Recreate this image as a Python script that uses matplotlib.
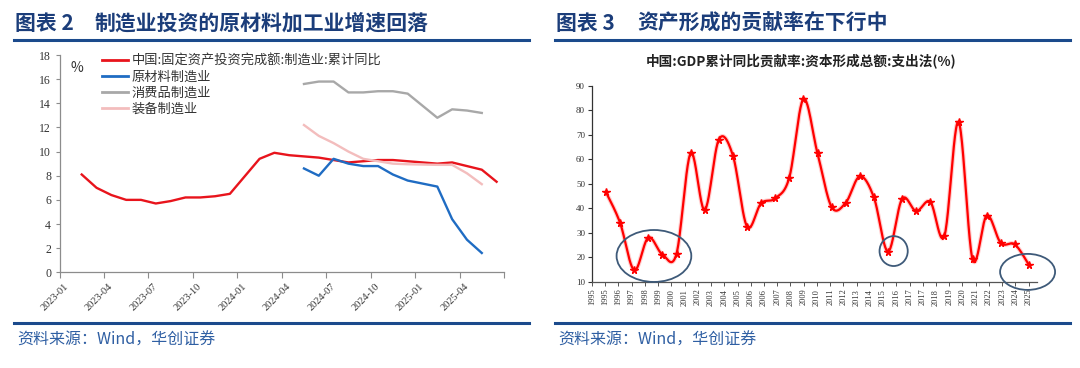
import numpy as np
import matplotlib
matplotlib.use('Agg')
import matplotlib.pyplot as plt
from matplotlib.patches import Ellipse
from matplotlib.lines import Line2D

plt.rcParams['font.family'] = ['Noto Sans CJK SC', 'DejaVu Sans']

nan = np.nan

# ---------------- Left chart data ----------------
months = ['2023-01', '2023-02', '2023-03', '2023-04', '2023-05', '2023-06',
          '2023-07', '2023-08', '2023-09', '2023-10', '2023-11', '2023-12',
          '2024-01', '2024-02', '2024-03', '2024-04', '2024-05', '2024-06',
          '2024-07', '2024-08', '2024-09', '2024-10', '2024-11', '2024-12',
          '2025-01', '2025-02', '2025-03', '2025-04', '2025-05', '2025-06']
month_labels = ['2023-01', '2023-04', '2023-07', '2023-10', '2024-01',
                '2024-04', '2024-07', '2024-10', '2025-01', '2025-04']

mfg_total = [nan, 8.1, 7.0, 6.4, 6.0, 6.0, 5.7, 5.9, 6.2, 6.2, 6.3, 6.5,
             nan, 9.4, 9.9, 9.7, 9.6, 9.5, 9.3, 9.1, 9.2, 9.3, 9.3, 9.2,
             nan, 9.0, 9.1, 8.8, 8.5, 7.5]
raw_material = [nan] * 16 + [8.6, 8.0, 9.4, 9.0, 8.8, 8.8, 8.1, 7.6,
                             nan, 7.1, 4.4, 2.7, 1.6, nan]
consumer = [nan] * 16 + [15.6, 15.8, 15.8, 14.9, 14.9, 15.0, 15.0, 14.8,
                         nan, 12.8, 13.5, 13.4, 13.2, nan]
equipment = [nan] * 16 + [12.2, 11.3, 10.7, 10.0, 9.4, 9.2, 9.0, 8.95,
                          nan, 8.9, 8.9, 8.2, 7.3, nan]

series_names = ['中国:固定资产投资完成额:制造业:累计同比', '原材料制造业',
                '消费品制造业', '装备制造业']
series_vals = [mfg_total, raw_material, consumer, equipment]
series_colors = ['#E8141C', '#1F6CC3', '#A8A8A8', '#F3BDBD']

# ---------------- Right chart data ----------------
gdp_contrib = [46.5, 34.0, 14.7, 28.0, 21.1, 21.4, 62.4, 39.3, 68.0, 61.5,
               32.5, 42.0, 44.0, 52.5, 84.5, 62.4, 40.5, 42.2, 53.0, 44.4,
               22.3, 43.8, 38.8, 42.6, 28.7, 75.2, 19.1, 37.0, 25.8, 25.2,
               16.8]
year_labels = ['1995', '1995', '1996', '1997', '1998', '1999', '2000', '2001',
               '2002', '2003', '2004', '2005', '2006', '2006', '2007', '2008',
               '2009', '2010', '2011', '2012', '2013', '2014', '2015', '2016',
               '2017', '2017', '2018', '2019', '2020', '2021', '2022', '2023',
               '2024', '2025']

W, H = 1080, 368
fig = plt.figure(figsize=(W / 100, H / 100), dpi=100)


def fx(px):
    return px / W


def fy(py):
    return 1 - py / H


title_color = '#1B3D7A'
rule_color = '#1B4A8C'
src_color = '#2F5FA3'

# ---------- headers / footers ----------
for x0, x1, num, txt, tx in [(14, 529, '图表 2', '制造业投资的原材料加工业增速回落', 95),
                             (555, 1070, '图表 3', '资产形成的贡献率在下行中', 637)]:
    fig.text(fx(x0 + 1), fy(23), num, fontsize=15, weight='bold',
             color=title_color, va='center', ha='left')
    fig.text(fx(tx), fy(23), txt, fontsize=15, weight='bold',
             color=title_color, va='center', ha='left')
    fig.add_artist(Line2D([fx(x0), fx(x1)], [fy(40), fy(40)], lw=2.2,
                          color=rule_color))
    fig.add_artist(Line2D([fx(x0), fx(x1)], [fy(322.5), fy(322.5)], lw=2.2,
                          color=rule_color))
    fig.text(fx(x0 + 3), fy(340), '资料来源：Wind，华创证券', fontsize=11.5,
             color=src_color, style='italic', va='center', ha='left')

# ---------- Left chart ----------
axl = fig.add_axes([fx(59.5), fy(272.3), fx(504 - 59.5), (272.3 - 55) / H])
x = np.arange(len(months))
handles = []
for name, vals, col in zip(series_names, series_vals, series_colors):
    v = np.array(vals, dtype=float)
    m = ~np.isnan(v)
    ln, = axl.plot(x[m], v[m], color=col, lw=1.7, solid_joinstyle='round')
    handles.append(ln)

axl.set_xlim(-0.5, len(months) - 0.5)
axl.set_ylim(0, 18)
axl.set_yticks(np.arange(0, 19, 2))
for s in ['top', 'right']:
    axl.spines[s].set_visible(False)
for s in ['left', 'bottom']:
    axl.spines[s].set_color('#8C8C8C')
    axl.spines[s].set_linewidth(0.9)
axl.set_xticks(np.arange(-0.5, len(months), 3))
axl.set_xticklabels([])
axl.set_xticks([months.index(l) for l in month_labels], minor=True)
axl.set_xticklabels(month_labels, minor=True, rotation=45, ha='right',
                    va='center', rotation_mode='anchor',
                    fontsize=7.5, family='Liberation Serif', color='#333333')
axl.tick_params(axis='x', which='major', length=4, color='#8C8C8C', direction='out')
axl.tick_params(axis='x', which='minor', length=0, pad=9)
axl.tick_params(axis='y', length=3, color='#8C8C8C', direction='out',
                labelsize=8.5, labelcolor='#333333', pad=3)
for t in axl.get_yticklabels():
    t.set_family('Liberation Serif')

fig.text(fx(77), fy(68), '%', fontsize=10, color='#333333', ha='center', va='center')

leg = axl.legend(handles, series_names, loc='upper left',
                 bbox_to_anchor=((102 - 59.5) / 444.5, (272.3 - 55) / 217.3),
                 frameon=False, fontsize=9.5, handlelength=2.0,
                 handletextpad=0.25, labelspacing=0.22, borderpad=0,
                 borderaxespad=0)
for t in leg.get_texts():
    t.set_color('#333333')
for lh in leg.get_lines():
    lh.set_linewidth(2.0)

# ---------- Right chart ----------
axr = fig.add_axes([fx(592), fy(281.7), fx(1037 - 592), (281.7 - 85.7) / H])
n = len(gdp_contrib)
xr = np.arange(n)


def catmull_rom(xs, ys, steps=24):
    pts = np.column_stack([xs, ys]).astype(float)
    P = np.vstack([pts[0], pts, pts[-1]])
    out = []
    t = np.linspace(0, 1, steps, endpoint=False)[:, None]
    for i in range(1, len(P) - 2):
        p0, p1, p2, p3 = P[i - 1], P[i], P[i + 1], P[i + 2]
        seg = 0.5 * ((2 * p1) + (-p0 + p2) * t
                     + (2 * p0 - 5 * p1 + 4 * p2 - p3) * t ** 2
                     + (-p0 + 3 * p1 - 3 * p2 + p3) * t ** 3)
        out.append(seg)
    out.append(pts[-1][None])
    return np.vstack(out)


curve = catmull_rom(xr, gdp_contrib)
axr.plot(curve[:, 0], curve[:, 1], color='#FFB0B0', lw=3.2, alpha=0.6,
         solid_capstyle='round')
axr.plot(curve[:, 0], curve[:, 1], color='#FF0000', lw=1.6,
         solid_capstyle='round')
axr.plot(xr, gdp_contrib, ls='none', marker='*', ms=5.5, color='#FF0000',
         mec='#FF0000')

px_per_idx = (1029 - 606) / 30.0
axr.set_xlim(-(606 - 592) / px_per_idx, (1037 - 606) / px_per_idx)
axr.set_ylim(10, 90)
axr.set_yticks(np.arange(10, 91, 10))
axr.tick_params(axis='y', length=3, direction='out', labelsize=6.5,
                labelcolor='#333333', pad=2, color='#333333', width=0.8)
for t in axr.get_yticklabels():
    t.set_family('Liberation Serif')
axr.tick_params(axis='x', length=0, labelbottom=False)
for s in ['top', 'right']:
    axr.spines[s].set_visible(False)
axr.spines['left'].set_color('#333333')
axr.spines['bottom'].set_color('#555555')
axr.spines['left'].set_linewidth(0.9)
axr.spines['bottom'].set_linewidth(0.9)

# circles highlighting low points
ell_color = '#3E5A79'
for cx, cy, w, h in [(3.4, 20.5, 5.3, 21.2),
                     (20.4, 22.5, 2.0, 12.2),
                     (29.9, 14.0, 3.9, 14.7)]:
    axr.add_patch(Ellipse((cx, cy), w, h, fill=False, ec=ell_color, lw=1.3,
                          clip_on=False, zorder=5))

ax2 = axr.twiny()
ax2.set_xlim(0, (1037 - 592) / ((1028.6 - 592) / 33))
ax2.set_xticks(np.arange(len(year_labels)))
ax2.set_xticklabels(year_labels, rotation=90, fontsize=6,
                    family='Liberation Serif', color='#333333', va='top',
                    ha='center')
ax2.xaxis.set_ticks_position('bottom')
ax2.xaxis.set_label_position('bottom')
ax2.tick_params(axis='x', length=3, direction='out', pad=2, color='#555555',
                width=0.7)
for s in ax2.spines.values():
    s.set_visible(False)

fig.text(fx(801), fy(61), '中国:GDP累计同比贡献率:资本形成总额:支出法(%)',
         fontsize=9.8, weight='bold', color='#222222', ha='center', va='center')

fig.savefig('out.png', dpi=100)
